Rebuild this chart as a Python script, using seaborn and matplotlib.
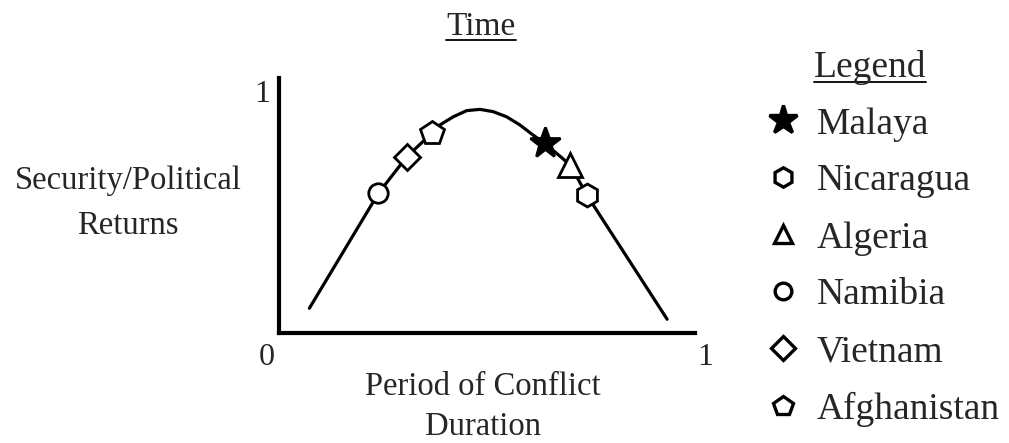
import matplotlib
matplotlib.use("Agg")
import matplotlib.pyplot as plt
from matplotlib.lines import Line2D
import seaborn as sns
import pandas as pd

# ---- data ----
curve_x = [0.073, 0.239, 0.307, 0.367, 0.387, 0.419, 0.451, 0.483, 0.515,
           0.547, 0.579, 0.611, 0.639, 0.700, 0.740, 0.933]
curve_y = [0.097, 0.548, 0.691, 0.783, 0.816, 0.848, 0.872, 0.877, 0.868,
           0.848, 0.816, 0.776, 0.744, 0.659, 0.541, 0.054]

cases = ["Malaya", "Nicaragua", "Algeria", "Namibia", "Vietnam", "Afghanistan"]
case_x = [0.639, 0.740, 0.700, 0.239, 0.307, 0.367]
case_y = [0.744, 0.541, 0.659, 0.548, 0.691, 0.783]
case_markers = ["*", "h", "^", "o", "D", "p"]

axis_ticks = ["0", "1", "1"]
title_text = "Time"
ylabel_lines = ["Security/Political", "Returns"]
xlabel_lines = ["Period of Conflict", "Duration"]
legend_title = "Legend"

# ---- style ----
sns.set_style("white")
plt.rcParams["font.family"] = ["Liberation Serif", "DejaVu Serif"]
FS_LAB = 23.5
FS_TICK = 23
FS_TITLE = 24
FS_LEG = 27

W, H = 1009, 443
fig = plt.figure(figsize=(W / 100, H / 100), dpi=100)

def fx(px):
    return px / W

def fy(py):
    return 1 - py / H

ax = fig.add_axes([fx(279), fy(333), (695 - 279) / W, (333 - 78) / H])
ax.set_xlim(0, 1)
ax.set_ylim(0, 1)

curve_df = pd.DataFrame({"x": curve_x, "y": curve_y})
sns.lineplot(data=curve_df, x="x", y="y", ax=ax, color="black", linewidth=2.3,
             sort=False, estimator=None)

plot_sizes = {"*": 23, "h": 16.5, "^": 17, "o": 14, "D": 13, "p": 17.5}
for name, x, y, m in zip(cases, case_x, case_y, case_markers):
    face = "black" if m == "*" else "white"
    ax.plot([x], [y], marker=m, markersize=plot_sizes[m], markerfacecolor=face,
            markeredgecolor="black", markeredgewidth=2.0, linestyle="none",
            zorder=5)

for side in ["top", "right"]:
    ax.spines[side].set_visible(False)
for side in ["left", "bottom"]:
    ax.spines[side].set_linewidth(3.0)
    ax.spines[side].set_color("black")
ax.set_xticks([])
ax.set_yticks([])
ax.set_xlabel("")
ax.set_ylabel("")

# axis end labels
fig.text(fx(267), fy(365), axis_ticks[0], fontsize=FS_TICK, ha="center", va="baseline")
fig.text(fx(262), fy(102), axis_ticks[1], fontsize=FS_TICK, ha="center", va="baseline")
fig.text(fx(705), fy(365), axis_ticks[2], fontsize=FS_TICK, ha="center", va="baseline")

# labels
fig.text(fx(128), fy(189), ylabel_lines[0], fontsize=FS_LAB, ha="center", va="baseline")
fig.text(fx(128), fy(234), ylabel_lines[1], fontsize=FS_LAB, ha="center", va="baseline")
fig.text(fx(483), fy(395), xlabel_lines[0], fontsize=FS_LAB, ha="center", va="baseline")
fig.text(fx(483), fy(435), xlabel_lines[1], fontsize=FS_LAB, ha="center", va="baseline")

t_title = fig.text(fx(481), fy(35), title_text, fontsize=FS_TITLE, ha="center", va="baseline")
t_leg = fig.text(fx(870), fy(77), legend_title, fontsize=FS_LEG, ha="center", va="baseline")

# legend
leg_sizes = {"*": 21, "h": 14, "^": 13, "o": 12, "D": 12, "p": 15}
handles = []
for name, m in zip(cases, case_markers):
    face = "black" if m == "*" else "white"
    handles.append(Line2D([], [], marker=m, markersize=leg_sizes[m],
                          markerfacecolor=face, markeredgecolor="black",
                          markeredgewidth=2.4, linestyle="none", label=name))
fig.legend(handles=handles, loc="upper left", bbox_to_anchor=(fx(764), fy(107)),
           frameon=False, fontsize=FS_LEG, handlelength=1.0, handletextpad=0.41,
           labelspacing=0.6, borderpad=0, borderaxespad=0)

# underlines
fig.canvas.draw()
r = fig.canvas.get_renderer()
for t, uy in [(t_title, 40), (t_leg, 82)]:
    bb = t.get_window_extent(r)
    fig.add_artist(Line2D([bb.x0 / W, bb.x1 / W], [fy(uy), fy(uy)],
                          color="black", linewidth=1.3, transform=fig.transFigure))

fig.savefig("out.png", dpi=100)
